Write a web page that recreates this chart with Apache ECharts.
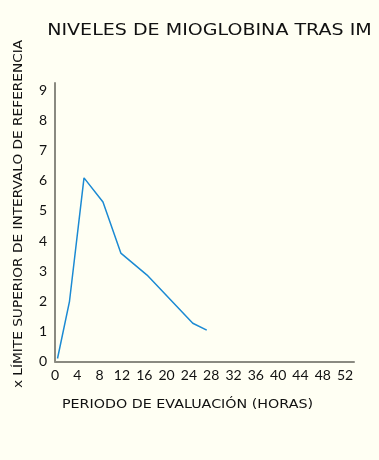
<!DOCTYPE html>
<html>
<head>
<meta charset="utf-8">
<script src="https://cdn.jsdelivr.net/npm/echarts@6/dist/echarts.min.js"></script>
<style>
html,body{margin:0;padding:0;background:#fffff3;}
#main{width:379px;height:460px;}
</style>
</head>
<body>
<div id="main"></div>
<script>
var titleText = 'NIVELES DE MIOGLOBINA TRAS IM';
var xAxisName = 'PERIODO DE EVALUACIÓN (HORAS)';
var yAxisName = 'x LÍMITE SUPERIOR DE INTERVALO DE REFERENCIA';
var hours = [0.45, 2.6, 5.2, 8.6, 11.8, 16.5, 24.7, 27.2];
var myoglobin = [0.1, 2.0, 6.1, 5.3, 3.6, 2.87, 1.27, 1.04];
var xTicks = [0, 4, 8, 12, 16, 20, 24, 28, 32, 36, 40, 44, 48, 52];
var yTicks = [0, 1, 2, 3, 4, 5, 6, 7, 8, 9];

var font = 'DejaVu Sans';
var chart = echarts.init(document.getElementById('main'), null, {renderer: 'canvas'});
chart.setOption({
  backgroundColor: '#fffff3',
  animation: false,
  graphic: [
    {
      type: 'text', x: 209.5, y: 31, scaleX: 1.27,
      style: {text: titleText, fontFamily: font, fontSize: 15, fill: '#111', align: 'center', verticalAlign: 'middle'}
    },
    {
      type: 'text', x: 187.5, y: 405, scaleX: 1.19,
      style: {text: xAxisName, fontFamily: font, fontSize: 12, fill: '#111', align: 'center', verticalAlign: 'middle'}
    },
    {
      type: 'text', x: 19, y: 214, rotation: Math.PI / 2, scaleX: 1.14,
      style: {text: yAxisName, fontFamily: font, fontSize: 12, fill: '#111', align: 'center', verticalAlign: 'middle'}
    }
  ],
  grid: {left: 55, right: 25, top: 83, bottom: 98.5},
  xAxis: {
    type: 'value',
    min: 0,
    max: 53.6,
    interval: 4,
    axisLine: {show: true, lineStyle: {color: '#8a8a80', width: 2}},
    axisTick: {show: false},
    splitLine: {show: false},
    axisLabel: {
      fontFamily: 'Lato', fontSize: 14, color: '#111', margin: 7,
      showMaxLabel: false,
      formatter: function (v) { return xTicks.indexOf(v) >= 0 ? String(v) : ''; }
    }
  },
  yAxis: {
    type: 'value',
    min: 0,
    max: 9.25,
    interval: 1,
    axisLine: {show: true, lineStyle: {color: '#8a8a80', width: 2}},
    axisTick: {show: false},
    splitLine: {show: false},
    axisLabel: {
      fontFamily: 'Lato', fontSize: 14, color: '#111', margin: 8,
      showMaxLabel: false,
      formatter: function (v) { return yTicks.indexOf(v) >= 0 ? String(v) : ''; }
    }
  },
  series: [{
    type: 'line',
    data: hours.map(function (h, i) { return [h, myoglobin[i]]; }),
    symbol: 'none',
    lineStyle: {color: '#1b8ad3', width: 1.5}
  }]
});
</script>
</body>
</html>
